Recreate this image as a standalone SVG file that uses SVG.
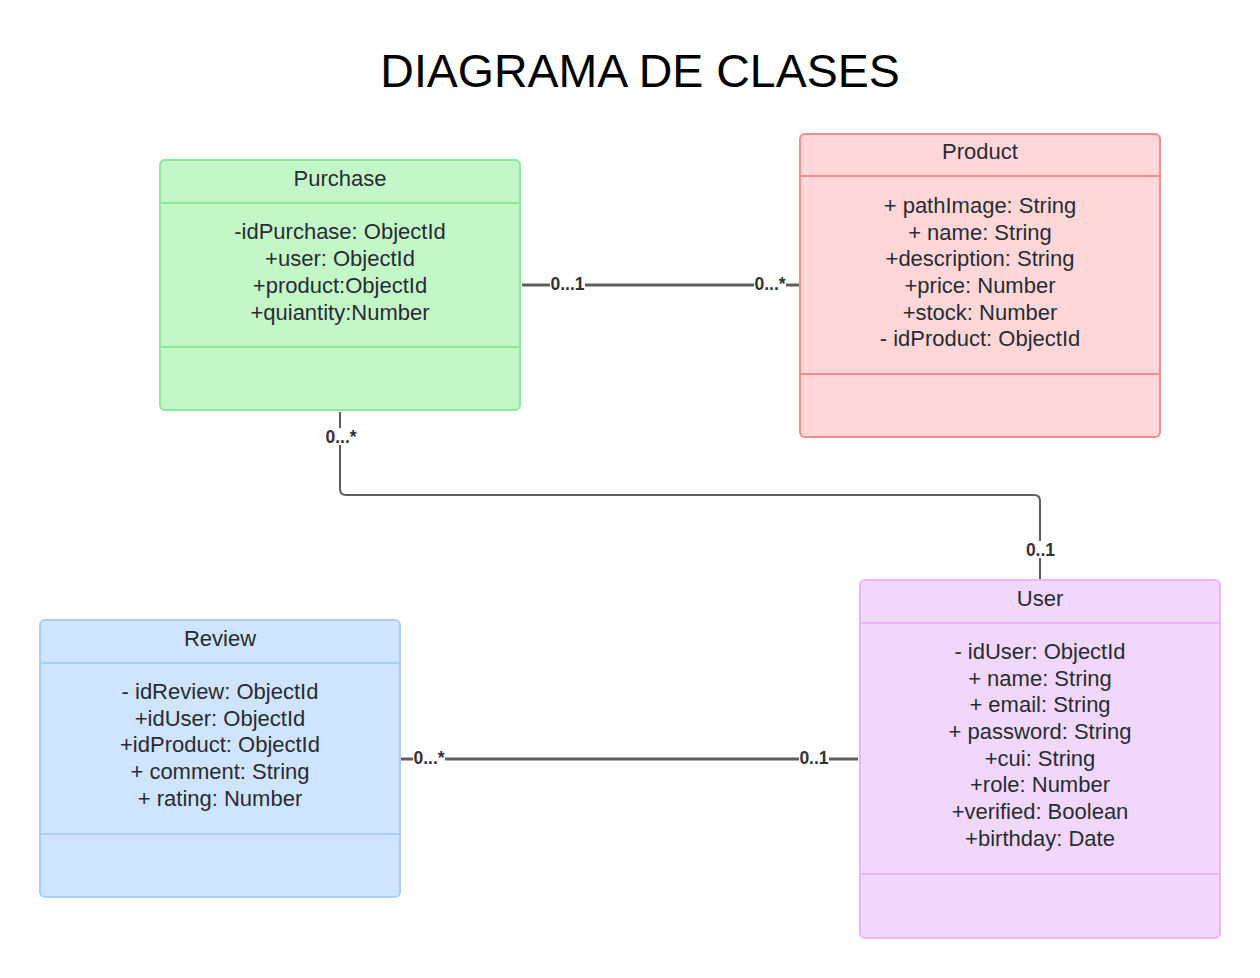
<svg xmlns="http://www.w3.org/2000/svg" width="1260" height="978" viewBox="0 0 1260 978">
<style>
text{font-family:"Liberation Sans",Arial,sans-serif;fill:#282c33;text-anchor:middle}
.title{font-size:46.5px;fill:#000}
.hd{font-size:22px}
.at{font-size:22px}
.lbl{font-size:17.5px;font-weight:bold;fill:#333}
.box{stroke-width:2}
.div{stroke-width:2}
.con{fill:none;stroke:#5e5e5e}
.lbg{fill:#fff}
.green{fill:#c3f7c8;stroke:#8fe899}
.red{fill:#ffd7d8;stroke:#f88c8c}
.purple{fill:#f2d7fd;stroke:#e9b6fa}
.blue{fill:#cfe4ff;stroke:#aacdfb}
</style>
<rect width="1260" height="978" fill="#fff"/>
<text class="title" x="640" y="87">DIAGRAMA DE CLASES</text>

<g id="connectors">
<path class="con" stroke-width="3" d="M522 285H800"/>
<path class="con" stroke-width="2" d="M340 412V489Q340 495 346 495H1034Q1040 495 1040 501V580"/>
<path class="con" stroke-width="3" d="M401 759H858"/>
<rect class="lbg" x="550" y="276" width="35" height="16"/>
<text class="lbl" x="567.5" y="290">0...1</text>
<rect class="lbg" x="754" y="276" width="32" height="16"/>
<text class="lbl" x="770" y="290">0...*</text>
<rect class="lbg" x="323" y="428" width="36" height="17"/>
<text class="lbl" x="341" y="443">0...*</text>
<rect class="lbg" x="1024" y="541" width="33" height="17"/>
<text class="lbl" x="1040.5" y="556">0..1</text>
<rect class="lbg" x="413" y="750" width="32" height="16"/>
<text class="lbl" x="429" y="764">0...*</text>
<rect class="lbg" x="799" y="750" width="30" height="16"/>
<text class="lbl" x="814" y="764">0..1</text>
</g>

<g id="purchase">
<rect class="box green" x="160" y="160" width="360" height="250" rx="5"/>
<line class="div green" x1="161" y1="203" x2="519" y2="203"/>
<line class="div green" x1="161" y1="347" x2="519" y2="347"/>
<text class="hd" x="340" y="186">Purchase</text>
<text class="at" x="340" y="239">-idPurchase: ObjectId</text>
<text class="at" x="340" y="266">+user: ObjectId</text>
<text class="at" x="340" y="293">+product:ObjectId</text>
<text class="at" x="340" y="320">+quiantity:Number</text>
</g>

<g id="product">
<rect class="box red" x="800" y="134" width="360" height="303" rx="5"/>
<line class="div red" x1="801" y1="176" x2="1159" y2="176"/>
<line class="div red" x1="801" y1="374" x2="1159" y2="374"/>
<text class="hd" x="980" y="159">Product</text>
<text class="at" x="980" y="213">+ pathImage: String</text>
<text class="at" x="980" y="240">+ name: String</text>
<text class="at" x="980" y="266">+description: String</text>
<text class="at" x="980" y="293">+price: Number</text>
<text class="at" x="980" y="320">+stock: Number</text>
<text class="at" x="980" y="346">- idProduct: ObjectId</text>
</g>

<g id="user">
<rect class="box purple" x="860" y="580" width="360" height="358" rx="5"/>
<line class="div purple" x1="861" y1="623" x2="1219" y2="623"/>
<line class="div purple" x1="861" y1="874" x2="1219" y2="874"/>
<text class="hd" x="1040" y="606">User</text>
<text class="at" x="1040" y="659">- idUser: ObjectId</text>
<text class="at" x="1040" y="686">+ name: String</text>
<text class="at" x="1040" y="712">+ email: String</text>
<text class="at" x="1040" y="739">+ password: String</text>
<text class="at" x="1040" y="766">+cui: String</text>
<text class="at" x="1040" y="792">+role: Number</text>
<text class="at" x="1040" y="819">+verified: Boolean</text>
<text class="at" x="1040" y="846">+birthday: Date</text>
</g>

<g id="review">
<rect class="box blue" x="40" y="620" width="360" height="277" rx="5"/>
<line class="div blue" x1="41" y1="663" x2="399" y2="663"/>
<line class="div blue" x1="41" y1="834" x2="399" y2="834"/>
<text class="hd" x="220" y="646">Review</text>
<text class="at" x="220" y="699">- idReview: ObjectId</text>
<text class="at" x="220" y="726">+idUser: ObjectId</text>
<text class="at" x="220" y="752">+idProduct: ObjectId</text>
<text class="at" x="220" y="779">+ comment: String</text>
<text class="at" x="220" y="806">+ rating: Number</text>
</g>
</svg>
